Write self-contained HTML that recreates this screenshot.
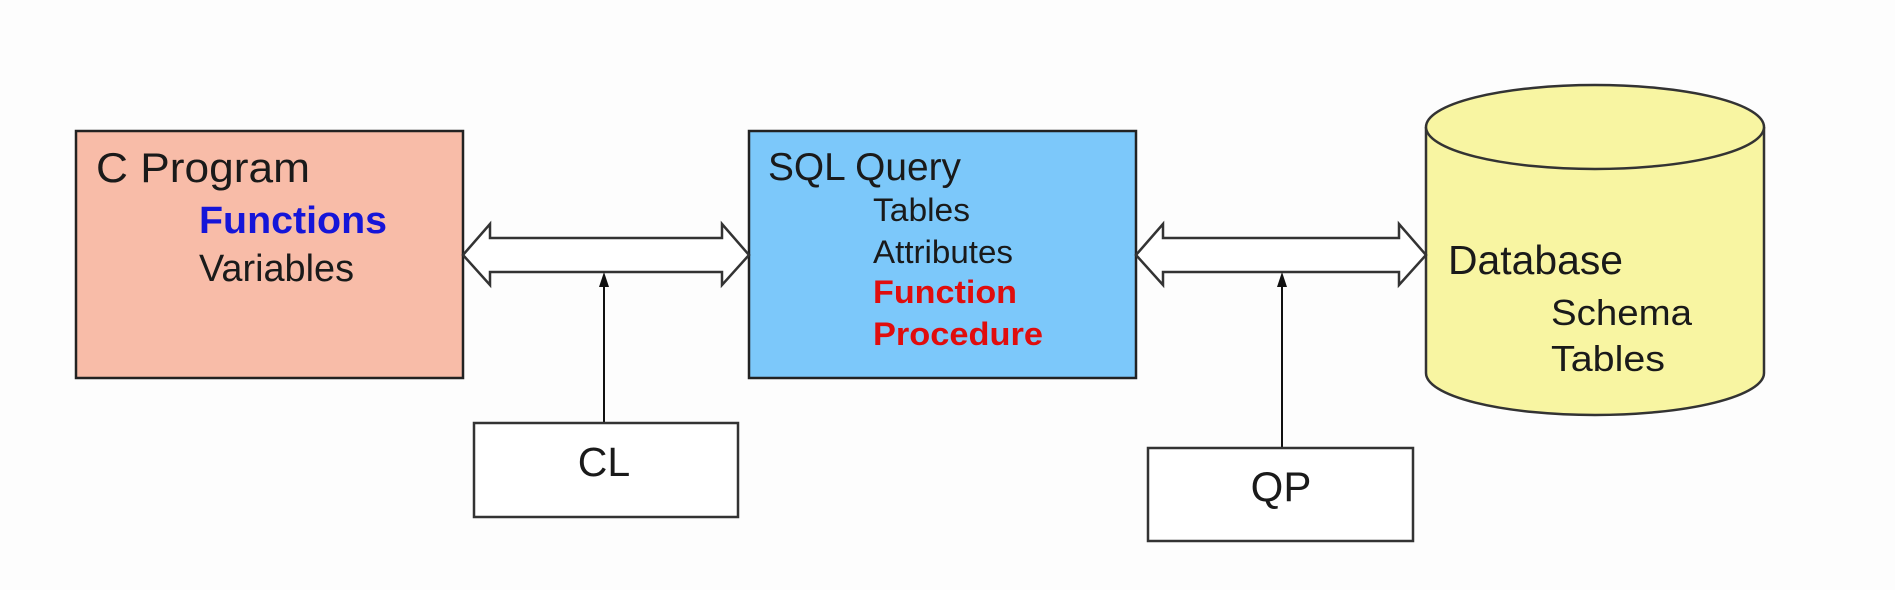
<!DOCTYPE html>
<html><head><meta charset="utf-8"><style>
html,body{margin:0;padding:0;background:#fdfdfd;}
svg{display:block;font-family:"Liberation Sans",Arial,sans-serif;}
</style></head><body>
<svg width="1895" height="590" viewBox="0 0 1895 590" xmlns="http://www.w3.org/2000/svg">
<rect width="1895" height="590" fill="#fdfdfd"/>
<!-- C Program box -->
<rect x="76" y="131" width="387" height="247" fill="#f8bca8" stroke="#222" stroke-width="2.5"/>
<text x="96" y="182" font-size="42" fill="#1a1a1a" textLength="214" lengthAdjust="spacingAndGlyphs">C Program</text>
<text x="199" y="233" font-size="38" font-weight="bold" fill="#1515d8" textLength="188" lengthAdjust="spacingAndGlyphs">Functions</text>
<text x="199" y="281" font-size="38" fill="#1a1a1a" textLength="155" lengthAdjust="spacingAndGlyphs">Variables</text>
<!-- SQL box -->
<rect x="749" y="131" width="387" height="247" fill="#7cc8fa" stroke="#222" stroke-width="2.5"/>
<text x="768" y="180" font-size="39" fill="#1a1a1a" textLength="193" lengthAdjust="spacingAndGlyphs">SQL Query</text>
<text x="873" y="221" font-size="32" fill="#1a1a1a" textLength="97" lengthAdjust="spacingAndGlyphs">Tables</text>
<text x="873" y="263" font-size="32" fill="#1a1a1a" textLength="140" lengthAdjust="spacingAndGlyphs">Attributes</text>
<text x="873" y="303" font-size="32" font-weight="bold" fill="#e00d0d" textLength="144" lengthAdjust="spacingAndGlyphs">Function</text>
<text x="873" y="345" font-size="32" font-weight="bold" fill="#e00d0d" textLength="170" lengthAdjust="spacingAndGlyphs">Procedure</text>
<!-- Cylinder -->
<path d="M1426,127 L1426,373 A169,42 0 0 0 1764,373 L1764,127" fill="#f8f5a2" stroke="#333" stroke-width="2.5"/>
<ellipse cx="1595" cy="127" rx="169" ry="42" fill="#f8f5a2" stroke="#333" stroke-width="2.5"/>
<text x="1448" y="274" font-size="41" fill="#1a1a1a" textLength="175" lengthAdjust="spacingAndGlyphs">Database</text>
<text x="1551" y="325" font-size="36" fill="#1a1a1a" textLength="141" lengthAdjust="spacingAndGlyphs">Schema</text>
<text x="1551" y="371" font-size="36" fill="#1a1a1a" textLength="114" lengthAdjust="spacingAndGlyphs">Tables</text>
<!-- double arrows -->
<polygon points="463,255 490,224 490,238 722,238 722,224 749,255 722,285 722,272 490,272 490,285" fill="#fff" stroke="#333" stroke-width="2.5"/>
<polygon points="1136,255 1163,224 1163,238 1399,238 1399,224 1426,255 1399,285 1399,272 1163,272 1163,285" fill="#fff" stroke="#333" stroke-width="2.5"/>
<!-- vertical arrows -->
<line x1="604" y1="423" x2="604" y2="285" stroke="#111" stroke-width="2"/>
<polygon points="604,272 599,287 609,287" fill="#111"/>
<line x1="1282" y1="448" x2="1282" y2="285" stroke="#111" stroke-width="2"/>
<polygon points="1282,272 1277,287 1287,287" fill="#111"/>
<!-- CL / QP -->
<rect x="474" y="423" width="264" height="94" fill="#fff" stroke="#333" stroke-width="2.5"/>
<text x="604" y="476" font-size="41" text-anchor="middle" fill="#1a1a1a">CL</text>
<rect x="1148" y="448" width="265" height="93" fill="#fff" stroke="#333" stroke-width="2.5"/>
<text x="1281" y="501" font-size="42" text-anchor="middle" fill="#1a1a1a">QP</text>
</svg>
</body></html>
